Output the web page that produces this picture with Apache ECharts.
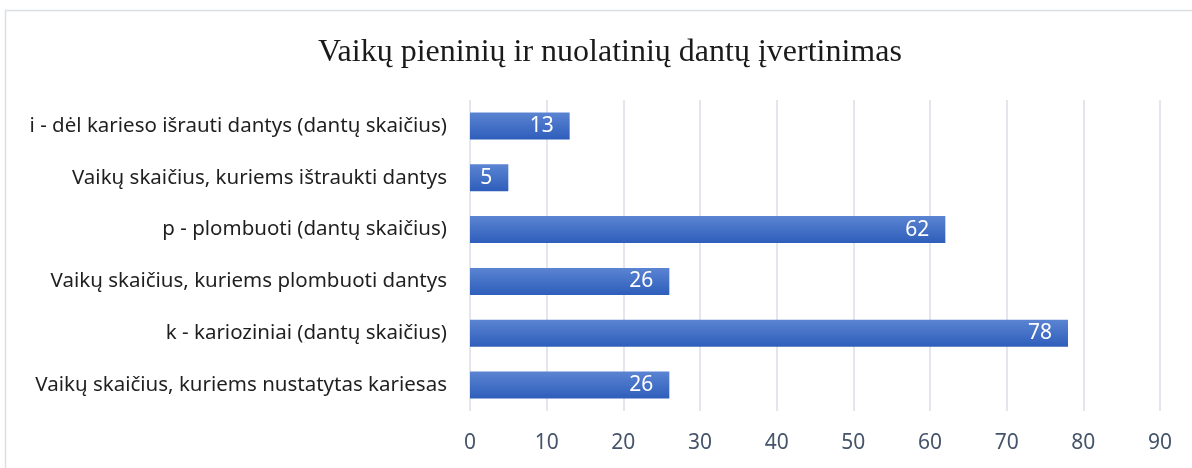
<!DOCTYPE html>
<html lang="lt">
<head>
<meta charset="utf-8">
<title>Vaikų pieninių ir nuolatinių dantų įvertinimas</title>
<script src="https://cdn.jsdelivr.net/npm/echarts@6/dist/echarts.min.js"></script>
<style>
  html, body { margin: 0; padding: 0; background: #fff; }
  #chart { width: 1192px; height: 468px; }
</style>
</head>
<body>
<div id="chart"></div>
<script>
// kategorijos (iš viršaus į apačią)
var categories = [
  'i - dėl karieso išrauti dantys (dantų skaičius)',
  'Vaikų skaičius, kuriems ištraukti dantys',
  'p - plombuoti (dantų skaičius)',
  'Vaikų skaičius, kuriems plombuoti dantys',
  'k - karioziniai (dantų skaičius)',
  'Vaikų skaičius, kuriems nustatytas kariesas'
];
// reikšmės
var values = [13, 5, 62, 26, 78, 26];
// ašies ribos
var axisMin = 0;
var axisMax = 90;
var axisStep = 10;

var myChart = echarts.init(document.getElementById('chart'));

var option = {
  animation: false,
  title: {
    text: 'Vaikų pieninių ir nuolatinių dantų įvertinimas',
    left: 313,
    top: 32,
    textStyle: {
      fontFamily: '"Liberation Serif", "DejaVu Serif", serif',
      fontSize: 32,
      fontWeight: 'normal',
      color: '#1a1a1a'
    }
  },
  grid: { left: 470, right: 32, top: 100, bottom: 57 },
  xAxis: {
    type: 'value',
    min: axisMin,
    max: axisMax,
    interval: axisStep,
    axisLine: { show: false },
    axisTick: { show: false },
    splitLine: { lineStyle: { color: '#e3e7ed', width: 2 } },
    axisLabel: {
      margin: 22,
      fontFamily: '"Noto Sans", sans-serif',
      fontSize: 21,
      color: '#44546a'
    }
  },
  yAxis: {
    type: 'category',
    data: categories,
    inverse: true,
    axisLine: { show: false },
    axisTick: { show: false },
    axisLabel: {
      margin: 23,
      fontFamily: '"Noto Sans", sans-serif',
      fontSize: 20.5,
      color: '#1f1f1f'
    }
  },
  series: [{
    type: 'bar',
    data: values,
    barWidth: 27,
    itemStyle: {
      color: new echarts.graphic.LinearGradient(0, 0, 0, 1, [
        { offset: 0, color: '#5b84d2' },
        { offset: 1, color: '#2e5ebb' }
      ])
    },
    label: {
      show: true,
      position: 'insideRight',
      distance: 16,
      fontFamily: '"Noto Sans", sans-serif',
      fontSize: 21,
      color: '#ffffff'
    }
  }],
  graphic: [{
    type: 'polyline',
    silent: true,
    shape: { points: [[5.5, 468], [5.5, 10.5], [1192, 10.5]] },
    style: { stroke: '#dcdfe5', lineWidth: 1.5, fill: null }
  }]
};

myChart.setOption(option);
</script>
</body>
</html>
